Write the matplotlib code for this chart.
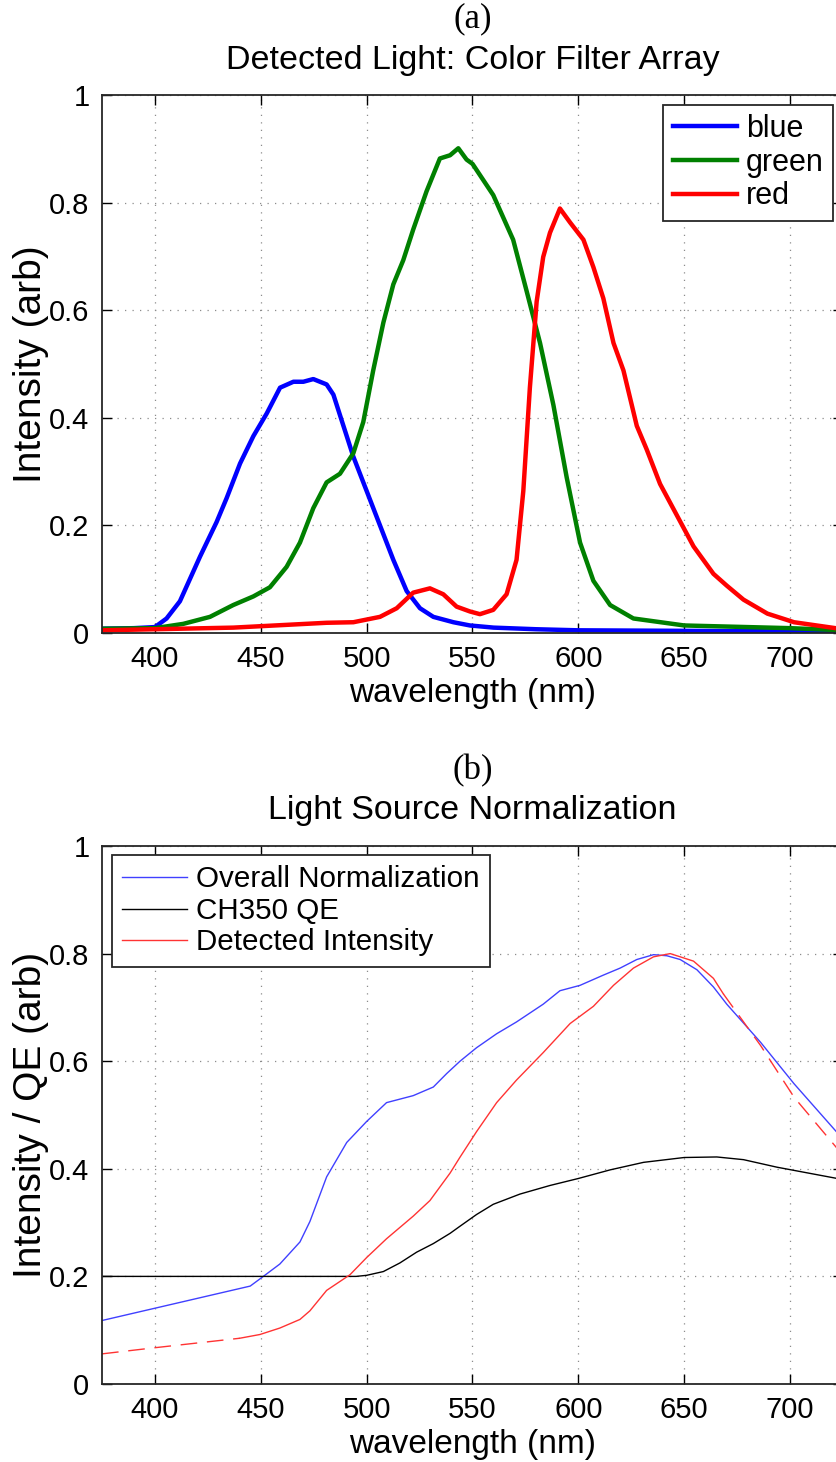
import matplotlib
matplotlib.use('Agg')
import matplotlib.pyplot as plt

# ---------------- Data: panel (a) ----------------
wl_blue_a = [375, 390, 400, 405.5, 411.8, 421.3, 429.1, 433.9, 440.2, 446.5, 452.8, 459.1,
             465.4, 470.1, 474.8, 481.1, 484.3, 487.4, 493.7, 500, 506.3, 512.6, 518.9,
             525.2, 531.5, 541, 548.8, 560, 580, 600, 650, 700, 725]
blue_a = [0.008, 0.009, 0.011, 0.027, 0.059, 0.142, 0.206, 0.251, 0.315, 0.366, 0.408, 0.456,
          0.467, 0.467, 0.472, 0.462, 0.443, 0.405, 0.328, 0.264, 0.200, 0.136, 0.078,
          0.046, 0.030, 0.020, 0.014, 0.010, 0.007, 0.005, 0.004, 0.003, 0.003]

wl_green_a = [375, 400, 413.4, 426, 437, 446.5, 454.3, 462.2, 468.5, 474.8, 481.1, 487.4,
              493.7, 498.4, 503.1, 507.9, 512.6, 517.3, 522, 528.3, 534.6, 539.4, 543.3,
              547.2, 550, 559.8, 569.2, 575.6, 581.9, 588.2, 594.5, 600.8, 607.1, 615,
              626, 650, 700, 725]
green_a = [0.008, 0.009, 0.017, 0.030, 0.052, 0.068, 0.085, 0.123, 0.168, 0.232, 0.280, 0.296,
           0.334, 0.392, 0.488, 0.577, 0.648, 0.693, 0.750, 0.821, 0.882, 0.888, 0.901,
           0.880, 0.872, 0.814, 0.731, 0.635, 0.539, 0.424, 0.289, 0.168, 0.097, 0.052,
           0.027, 0.014, 0.009, 0.005]

wl_red_a = [375, 400, 437, 481.1, 493.7, 506.3, 514.2, 522, 529.9, 536.2, 542.5, 548.8,
            553.5, 559.8, 566.1, 570.8, 574, 577.1, 580.3, 583.4, 586.6, 591.3, 596.1,
            602.4, 607.1, 611.8, 616.6, 621.3, 627.6, 632.3, 638.6, 646.5, 654.4, 663.8,
            670.1, 678, 689.3, 701.9, 725]
red_a = [0.005, 0.007, 0.010, 0.019, 0.020, 0.030, 0.046, 0.075, 0.083, 0.072, 0.049, 0.040,
         0.035, 0.043, 0.072, 0.136, 0.264, 0.456, 0.616, 0.699, 0.744, 0.789, 0.763,
         0.731, 0.680, 0.622, 0.539, 0.488, 0.385, 0.341, 0.277, 0.219, 0.161, 0.110,
         0.088, 0.062, 0.036, 0.020, 0.007]

# ---------------- Data: panel (b) ----------------
wl_norm = [375, 445, 451.2, 459, 468.5, 473.2, 481.1, 490.6, 500, 509.4, 522, 531.5, 537.8,
           544.1, 551.9, 561.4, 570.8, 583.4, 591.3, 600.8, 611.8, 619.7, 627.6, 635.5,
           641.8, 648.1, 656, 663.8, 670.1, 686.1, 701.9, 725]
norm = [0.118, 0.182, 0.200, 0.223, 0.264, 0.302, 0.385, 0.449, 0.488, 0.523, 0.536, 0.552,
        0.577, 0.600, 0.625, 0.651, 0.673, 0.706, 0.731, 0.741, 0.760, 0.773, 0.789, 0.798,
        0.796, 0.789, 0.770, 0.738, 0.706, 0.635, 0.558, 0.455]

wl_qe = [375, 495, 500, 507.9, 515.7, 523.6, 531.5, 539.4, 544, 551.9, 559.8, 572.4, 586.6,
         600, 615, 630.8, 650, 665.4, 678, 693.8, 725]
qe = [0.200, 0.200, 0.202, 0.209, 0.225, 0.245, 0.261, 0.280, 0.293, 0.315, 0.334, 0.353,
      0.369, 0.382, 0.398, 0.412, 0.421, 0.422, 0.417, 0.403, 0.380]

wl_det_lo = [375, 399, 440]
det_lo = [0.056, 0.067, 0.085]
wl_det = [440, 449.6, 459, 468.5, 473.2, 481.1, 492.1, 500, 509.4, 522, 529.9, 539.4, 544,
          551.9, 561.4, 570.8, 583.4, 596.1, 607.1, 616.6, 626, 635.5, 643.4, 654.4, 663.8,
          668.5]
det = [0.085, 0.092, 0.104, 0.120, 0.136, 0.174, 0.203, 0.235, 0.270, 0.312, 0.341, 0.392,
       0.421, 0.469, 0.523, 0.565, 0.616, 0.670, 0.702, 0.741, 0.773, 0.794, 0.800, 0.786,
       0.754, 0.725]
wl_det_hi = [668.5, 686.1, 701.9, 725]
det_hi = [0.725, 0.629, 0.533, 0.425]

xticks = [400, 450, 500, 550, 600, 650, 700]
yticks = [0, 0.2, 0.4, 0.6, 0.8, 1]
yticklabels = ['0', '0.2', '0.4', '0.6', '0.8', '1']

# ---------------- Figure ----------------
plt.rcParams['font.family'] = ['Liberation Sans', 'DejaVu Sans']
W, H = 836, 1462
fig = plt.figure(figsize=(W / 100, H / 100), dpi=100)

left = 102 / W
width = (843 - 102) / W
axA = fig.add_axes([left, 1 - 633 / H, width, 538 / H])
axB = fig.add_axes([left, 1 - 1384 / H, width, 538 / H])
xc = left + width / 2


def style(ax, ylabel):
    ax.set_xlim(375, 725)
    ax.set_ylim(0, 1)
    ax.set_xticks(xticks)
    ax.set_yticks(yticks)
    ax.set_yticklabels(yticklabels)
    ax.tick_params(direction='in', length=7, width=1.0, top=True, right=True,
                   labelsize=21, pad=9, colors='k')
    ax.grid(True, linestyle=(0, (1, 5)), color='0.55', linewidth=0.9)
    for s in ax.spines.values():
        s.set_linewidth(1.3)
        s.set_color('0.15')
    ax.set_xlabel('wavelength (nm)', fontsize=24, labelpad=3)
    ax.set_ylabel(ylabel, fontsize=28, labelpad=0)


# Panel (a)
axA.plot(wl_blue_a, blue_a, color=(0, 0, 1), lw=3.2, label='blue')
axA.plot(wl_green_a, green_a, color=(0, 0.5, 0), lw=3.2, label='green')
axA.plot(wl_red_a, red_a, color=(1, 0, 0), lw=3.2, label='red')
style(axA, 'Intensity (arb)')
legA = axA.legend(loc='upper right', bbox_to_anchor=(833 / W, 1 - 105 / H),
                  bbox_transform=fig.transFigure, borderaxespad=0, fontsize=22,
                  fancybox=False, framealpha=1, edgecolor='0.15', handlelength=2.1,
                  handletextpad=0.3, labelspacing=0.12, borderpad=0.3)
legA.get_frame().set_linewidth(1.3)

# Panel (b)
axB.plot(wl_norm, norm, color=(0.25, 0.25, 1), lw=1.0, label='Overall Normalization')
axB.plot(wl_qe, qe, color='k', lw=1.0, label='CH350 QE')
axB.plot(wl_det, det, color=(1, 0.2, 0.2), lw=1.0, label='Detected Intensity')
axB.plot(wl_det_lo, det_lo, color=(1, 0.2, 0.2), lw=1.0, dashes=(12, 7))
axB.plot(wl_det_hi, det_hi, color=(1, 0.2, 0.2), lw=1.0, dashes=(12, 7))
style(axB, 'Intensity / QE (arb)')
legB = axB.legend(loc='upper left', bbox_to_anchor=(112 / W, 1 - 855 / H),
                  bbox_transform=fig.transFigure, borderaxespad=0, fontsize=21.3,
                  fancybox=False, framealpha=1, edgecolor='0.15', handlelength=2.2,
                  handletextpad=0.3, labelspacing=0.12, borderpad=0.35)
legB.get_frame().set_linewidth(1.3)

# Titles
fig.text(xc, 1 - 19 / H, '(a)', ha='center', va='center', fontsize=25,
         family=['Liberation Serif', 'DejaVu Serif'])
fig.text(xc, 1 - 60 / H, 'Detected Light: Color Filter Array', ha='center', va='center',
         fontsize=24.5)
fig.text(xc, 1 - 771 / H, '(b)', ha='center', va='center', fontsize=25,
         family=['Liberation Serif', 'DejaVu Serif'])
fig.text(xc, 1 - 811 / H, 'Light Source Normalization', ha='center', va='center',
         fontsize=24.5)

fig.savefig('out.png', dpi=100)
